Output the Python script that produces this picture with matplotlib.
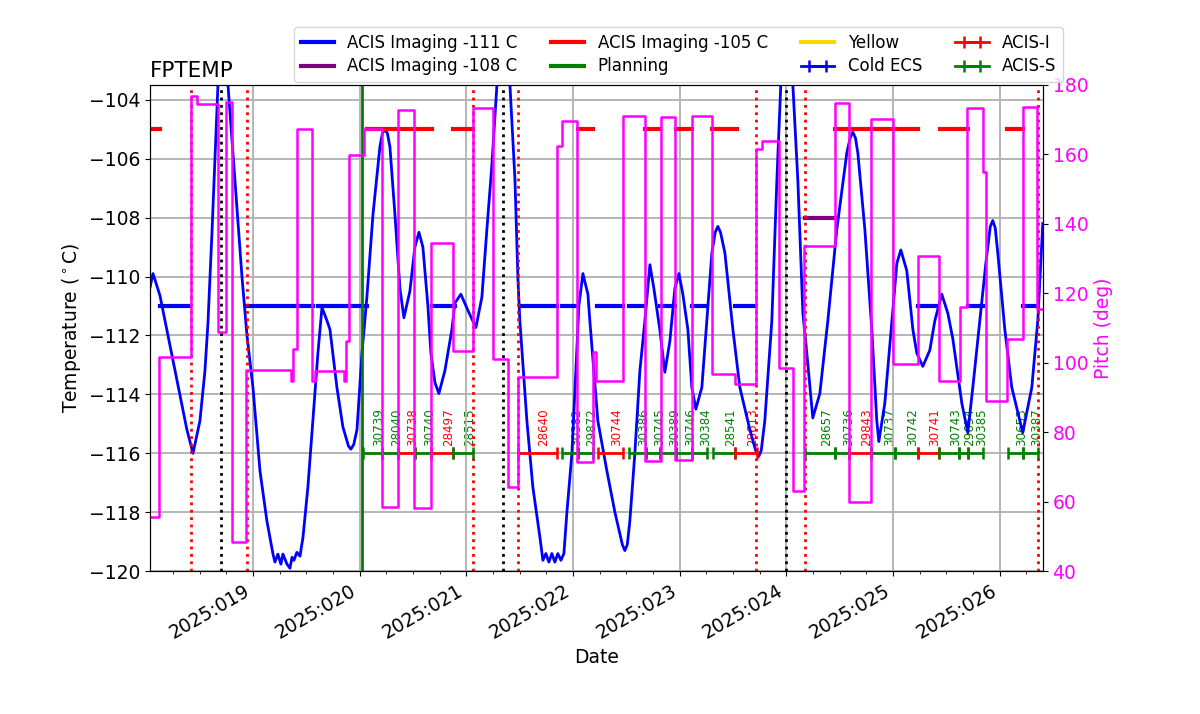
import numpy as np
import matplotlib
matplotlib.use("Agg")
import matplotlib.pyplot as plt
import matplotlib.dates as mdates
from matplotlib.lines import Line2D

# all times are fractional day-of-year, 2025
temp_doy = [
    18.035, 18.063, 18.128, 18.222, 18.316, 18.381, 18.438, 18.503, 18.550, 18.578,
    18.616, 18.644, 18.672, 18.719, 18.766, 18.831, 18.897, 18.944, 19.000, 19.066,
    19.131, 19.187, 19.206, 19.234, 19.262, 19.281, 19.319, 19.347, 19.366, 19.384,
    19.412, 19.441, 19.469, 19.515, 19.562, 19.609, 19.647, 19.694, 19.722, 19.787,
    19.843, 19.895, 19.918, 19.945, 19.975, 20.022, 20.068, 20.125, 20.190, 20.213,
    20.237, 20.261, 20.284, 20.331, 20.378, 20.415, 20.471, 20.518, 20.556, 20.593,
    20.640, 20.668, 20.706, 20.743, 20.799, 20.865, 20.893, 20.949, 21.015, 21.090,
    21.146, 21.193, 21.240, 21.287, 21.343, 21.409, 21.456, 21.484, 21.502, 21.568,
    21.624, 21.690, 21.718, 21.746, 21.774, 21.802, 21.830, 21.858, 21.887, 21.915,
    21.943, 21.990, 22.027, 22.055, 22.093, 22.140, 22.158, 22.233, 22.318, 22.393,
    22.463, 22.486, 22.509, 22.533, 22.580, 22.627, 22.674, 22.721, 22.758, 22.814,
    22.861, 22.908, 22.955, 22.993, 23.030, 23.077, 23.114, 23.152, 23.208, 23.255,
    23.302, 23.333, 23.358, 23.383, 23.424, 23.499, 23.564, 23.658, 23.720, 23.742,
    23.765, 23.798, 23.864, 23.911, 23.948, 24.005, 24.061, 24.108, 24.155, 24.192,
    24.248, 24.314, 24.389, 24.473, 24.567, 24.598, 24.623, 24.648, 24.670, 24.736,
    24.801, 24.848, 24.867, 24.923, 24.989, 25.036, 25.073, 25.129, 25.186, 25.223,
    25.279, 25.345, 25.392, 25.457, 25.514, 25.560, 25.645, 25.701, 25.748, 25.813,
    25.870, 25.912, 25.935, 25.958, 25.982, 26.048, 26.113, 26.216, 26.301, 26.357,
    26.404,
]
temp_c = [
    -110.37, -109.9, -110.64, -112.34, -114.03, -115.2, -116.0, -114.9, -113.2, -111.6,
    -108.5, -106.0, -103.5, -101.5, -103.5, -106.75, -110.0, -112.0, -113.76, -116.6,
    -118.3, -119.4, -119.69, -119.42, -119.76, -119.42, -119.76, -119.9, -119.53, -119.63,
    -119.36, -119.49, -118.85, -117.15, -114.9, -112.6, -111.05, -111.5, -111.8, -113.76,
    -115.1, -115.75, -115.86, -115.7, -115.2, -112.6, -110.7, -107.9, -105.6, -105.15,
    -105.0, -105.15, -105.6, -107.9, -110.4, -111.4, -110.5, -109.0, -108.5, -109.0,
    -111.0, -112.6, -113.6, -113.97, -113.2, -111.8, -110.9, -110.6, -111.15, -111.73,
    -110.7, -108.4, -106.2, -103.5, -101.5, -103.5, -106.7, -110.1, -111.5, -114.9,
    -117.15, -118.85, -119.63, -119.4, -119.69, -119.4, -119.69, -119.4, -119.63, -119.4,
    -118.0, -116.0, -113.2, -111.0, -109.9, -110.6, -111.5, -114.9, -116.6, -118.0,
    -119.1, -119.3, -119.1, -118.3, -116.0, -113.2, -111.5, -109.6, -110.4, -111.8,
    -113.25, -112.2, -110.4, -109.9, -110.6, -111.8, -113.76, -114.5, -113.76, -111.5,
    -109.2, -108.5, -108.3, -108.5, -109.2, -111.8, -113.76, -115.2, -116.0, -116.1,
    -115.9, -114.9, -111.5, -106.75, -103.5, -101.3, -103.5, -106.75, -111.25, -112.6,
    -114.8, -113.97, -111.5, -108.4, -105.8, -105.3, -105.1, -105.3, -105.8, -108.4,
    -111.8, -114.9, -115.6, -114.3, -111.5, -109.55, -109.1, -109.8, -111.8, -112.6,
    -113.05, -112.5, -111.5, -110.6, -111.25, -112.1, -114.3, -115.3, -113.76, -111.5,
    -109.55, -108.3, -108.1, -108.35, -109.2, -111.8, -113.76, -115.3, -113.76, -111.5,
    -108.2,
]

# pitch: value holds from each time until the next
pitch_doy = [
    18.035, 18.119, 18.424, 18.475, 18.677, 18.752, 18.803, 18.939, 19.361, 19.375,
    19.412, 19.558, 19.581, 19.858, 19.876, 19.904, 20.040, 20.209, 20.364, 20.514,
    20.673, 20.879, 21.067, 21.254, 21.395, 21.488, 21.854, 21.896, 22.041, 22.187,
    22.215, 22.472, 22.679, 22.824, 22.960, 23.114, 23.306, 23.522, 23.719, 23.775,
    23.934, 24.066, 24.169, 24.459, 24.586, 24.792, 25.003, 25.237, 25.429, 25.626,
    25.696, 25.842, 25.874, 26.067, 26.216, 26.352, 26.404,
]
pitch_deg = [
    55.5, 101.8, 176.8, 174.6, 109.0, 175.0, 48.3, 98.0, 94.7, 104.0,
    167.3, 94.7, 97.6, 94.7, 106.2, 159.8, 167.3, 58.4, 172.8, 58.1,
    134.5, 103.3, 173.4, 101.0, 64.2, 95.9, 162.4, 169.6, 71.4, 103.0,
    94.7, 171.0, 71.6, 170.8, 72.0, 171.0, 96.7, 93.8, 161.5, 164.0,
    98.4, 63.0, 133.6, 174.8, 59.8, 170.2, 99.6, 130.7, 94.7, 116.0,
    173.4, 155.0, 89.0, 106.8, 173.7, 115.4, 115.4,
]

# limit line pieces (start, stop)
lim_111 = [(18.128, 18.410), (18.944, 19.375), (19.412, 19.562), (19.609, 19.862),
           (19.890, 20.068), (20.678, 20.893), (21.502, 21.849), (21.896, 22.037),
           (22.224, 22.468), (22.524, 22.655), (22.814, 22.955), (23.114, 23.255),
           (23.517, 23.705), (25.232, 25.420), (25.701, 25.842), (26.216, 26.348)]
lim_105 = [(18.035, 18.128), (20.068, 20.678), (20.874, 21.062), (22.046, 22.187),
           (22.674, 22.814), (22.964, 23.114), (23.302, 23.536), (24.455, 24.801),
           (24.811, 25.232), (25.439, 25.701), (26.067, 26.216)]
lim_108 = [(24.173, 24.455)]

red_vlines = [18.419, 18.944, 21.062, 21.484, 23.714, 24.173, 26.357]
black_vlines = [18.700, 21.343, 23.995]
green_vline = 20.025

obsids = ["30739", "28040", "30738", "30740", "28497", "28515", "28640", "30382",
          "29872", "30744", "30386", "30745", "30389", "30746", "30384", "28541",
          "28613", "28657", "30736", "29843", "30737", "30742", "30741", "30743",
          "29654", "30385", "30653", "30387"]
obs_start = [20.031, 20.209, 20.359, 20.518, 20.668, 20.874, 21.484, 21.896,
             22.046, 22.233, 22.524, 22.683, 22.814, 22.964, 23.114, 23.311,
             23.517, 24.173, 24.455, 24.586, 24.792, 25.017, 25.232, 25.429,
             25.617, 25.701, 26.076, 26.216]
obs_stop = [20.209, 20.359, 20.518, 20.668, 20.874, 21.062, 21.849, 22.046,
            22.187, 22.468, 22.683, 22.814, 22.964, 23.114, 23.255, 23.517,
            23.724, 24.455, 24.586, 24.792, 25.017, 25.232, 25.429, 25.617,
            25.701, 25.842, 26.216, 26.357]
obs_inst = ["S", "S", "I", "S", "I", "S", "I", "S", "S", "I", "S", "S", "S", "S",
            "S", "S", "I", "S", "S", "I", "S", "S", "I", "S", "S", "S", "S", "S"]

t_min, t_max = 18.035, 26.404

base = mdates.date2num(np.datetime64("2025-01-01")) - 1.0


def tnum(d):
    return base + np.asarray(d, dtype=float)


fig, ax = plt.subplots(figsize=(12, 7.14), dpi=100)
ax2 = ax.twinx()

ax.grid(True, color="#b0b0b0", lw=1.3)

ax.plot(tnum(temp_doy), temp_c, color="blue", lw=2)

for a, b in lim_111:
    ax.plot(tnum([a, b]), [-111, -111], color="blue", lw=3)
for a, b in lim_105:
    ax.plot(tnum([a, b]), [-105, -105], color="red", lw=3)
for a, b in lim_108:
    ax.plot(tnum([a, b]), [-108, -108], color="purple", lw=3)

for t in red_vlines:
    ax.axvline(tnum(t), color="red", ls=":", lw=2)
for t in black_vlines:
    ax.axvline(tnum(t), color="black", ls=":", lw=2)
ax.axvline(tnum(green_vline), color="green", lw=2)

# one errorbar per obsid, caps at the start and stop times
err_kw = dict(elinewidth=2, capsize=4.3, capthick=1.8, lw=2)
bar_handles = {}
for ob, a, b, ins in zip(obsids, obs_start, obs_stop, obs_inst):
    col = "red" if ins == "I" else "green"
    mid = 0.5 * (a + b)
    h = ax.errorbar(tnum([mid]), [-116.0], xerr=[0.5 * (b - a)], color=col, **err_kw)
    bar_handles.setdefault(ins, h)
    ax.text(tnum(mid), -115.75, ob, rotation=90, ha="left", va="bottom",
            fontsize=8.6, color=col, zorder=1)
hC = ax.errorbar([np.nan], [np.nan], xerr=[0.0], color="blue", **err_kw)

ax2.step(tnum(pitch_doy), pitch_deg, where="post", color="magenta", lw=1.8)

ax.set_xlim(tnum(t_min), tnum(t_max))
ax.set_ylim(-120, -103.5)
ax.set_yticks(np.arange(-120, -103, 2))
ax2.set_ylim(40, 180)
ax2.set_yticks(np.arange(40, 181, 20))

ax.xaxis.set_major_locator(mdates.DayLocator())
ax.xaxis.set_minor_locator(mdates.HourLocator(byhour=[0, 6, 12, 18]))
ax.xaxis.set_major_formatter(mdates.DateFormatter("%Y:%j"))

ax.tick_params(labelsize=13.5)
ax2.tick_params(labelsize=13.5, labelcolor="magenta")
ax.set_xlabel("Date", fontsize=13.5)
ax.set_ylabel(r"Temperature ($^\circ$C)", fontsize=13.5)
ax2.set_ylabel("Pitch (deg)", fontsize=13.5, color="magenta")
ax.set_title("FPTEMP", loc="left", fontsize=15.5)

fig.autofmt_xdate()
for lab in ax.get_xticklabels():
    lab.set_rotation(30)
    lab.set_ha("right")
fig.subplots_adjust(left=0.125, right=0.869, top=0.881, bottom=0.2)

handles = [
    Line2D([], [], color="blue", lw=3),
    Line2D([], [], color="purple", lw=3),
    Line2D([], [], color="red", lw=3),
    Line2D([], [], color="green", lw=3),
    Line2D([], [], color="gold", lw=3),
    hC, bar_handles["I"], bar_handles["S"],
]
labels = ["ACIS Imaging -111 C", "ACIS Imaging -108 C", "ACIS Imaging -105 C",
          "Planning", "Yellow", "Cold ECS", "ACIS-I", "ACIS-S"]
fig.legend(handles, labels, ncol=4, loc="lower center", labelspacing=0.35,
           bbox_to_anchor=(0.5654, 0.885), fontsize=12, borderaxespad=0)

fig.savefig("out.png", dpi=100)
